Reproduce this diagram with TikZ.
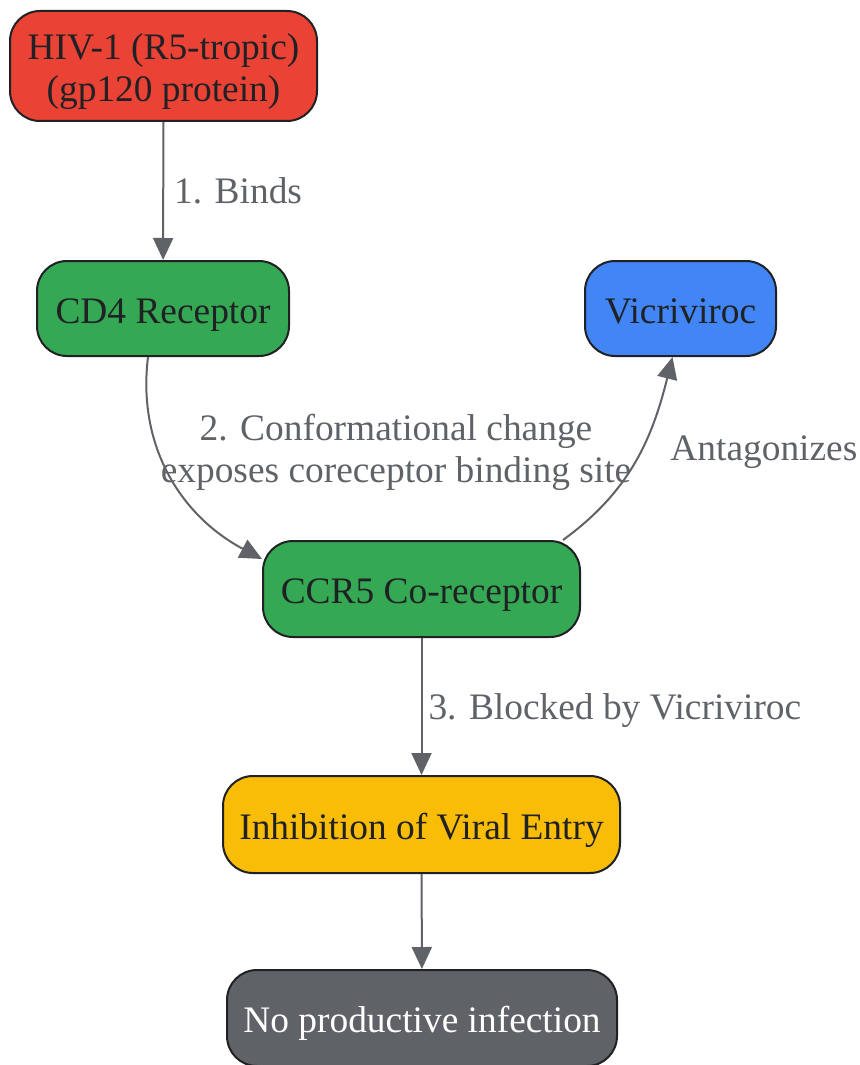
\documentclass[tikz,border=0pt]{standalone}
\usepackage{fontspec}
\setmainfont{Liberation Serif}
\usetikzlibrary{arrows.meta}
\definecolor{hivred}{HTML}{EA4335}
\definecolor{rcpgreen}{HTML}{34A853}
\definecolor{drugblue}{HTML}{4285F4}
\definecolor{stopyellow}{HTML}{F9BC07}
\definecolor{endgray}{HTML}{5F6368}
\definecolor{inkdark}{HTML}{202124}
\tikzset{
	box/.style={draw=inkdark, line width=1pt, rounded corners=15pt, align=center, inner sep=0pt, text=inkdark, font=\fontsize{18.7}{21}\selectfont},
	oneline/.style={text height=14.6pt, text depth=0pt},
	twoline/.style={text height=35.6pt, text depth=0pt},
	link/.style={draw=endgray, line width=1pt, -{Triangle[length=11pt,width=10pt]}},
	tag/.style={text=endgray, align=center, inner sep=0pt, font=\fontsize{18.7}{21}\selectfont},
}

\begin{document}
\begin{tikzpicture}[x=0.5pt, y=-0.5pt]
	\useasboundingbox (0,0) rectangle (859,1065);
	\node[box, twoline, fill=hivred, minimum width=153.5pt, minimum height=55pt](HIV) at (163.5,66){HIV-1 (R5-tropic)\\(gp120 protein)};
	\node[box, oneline, fill=rcpgreen, minimum width=126pt, minimum height=47.5pt](CD4) at (163,308.5){CD4 Receptor};
	\node[box, oneline, fill=drugblue, minimum width=95.5pt, minimum height=47.5pt](VIC) at (680.5,308.5){Vicriviroc};
	\node[box, oneline, fill=rcpgreen, minimum width=158.5pt, minimum height=48pt](CCR5) at (421.5,589){CCR5 Co-receptor};
	\node[box, oneline, fill=stopyellow, minimum width=198.5pt, minimum height=48.5pt](INH) at (421.5,824.5){Inhibition of Viral Entry};
	\node[box, oneline, fill=endgray, text=white, minimum width=195pt, minimum height=48pt](NPI) at (422,1018){No productive infection};
	% edges
	\draw [link] (HIV) -- node[tag, right=5pt]{1. Binds} (CD4);
	\draw [link] ([xshift=-7.5pt]CD4.south) to[out=-97, in=152] ([yshift=-9.5pt]CCR5.north west);
	\node[tag](LBL2) at (396,452){2. Conformational change\\exposes coreceptor binding site};
	\draw [link] ([xshift=-9pt]CCR5.north east) to[out=36, in=-104] ([xshift=-4pt]VIC.south);
	\node[tag, anchor=west](LBL3) at (670,452){Antagonizes};
	\draw [link] (CCR5) -- node[tag, right=3pt, yshift=-2pt]{3. Blocked by Vicriviroc} (INH);
	\draw [link] (INH) -- (NPI);
\end{tikzpicture}
\end{document}
